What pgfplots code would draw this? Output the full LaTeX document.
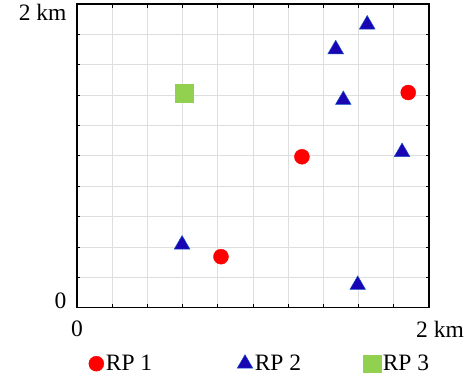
\documentclass[border=0pt]{standalone}
\usepackage{fontspec}
\setmainfont{Liberation Serif}
\usepackage{pgfplots}
\pgfplotsset{compat=1.18}
\definecolor{rpred}{RGB}{255,0,0}
\definecolor{rpblue}{RGB}{25,5,180}
\definecolor{rpblueedge}{RGB}{20,80,200}
\definecolor{rpgreen}{RGB}{146,208,80}
\definecolor{gridc}{RGB}{222,222,222}
\begin{document}
\begin{tikzpicture}
\begin{axis}[
  scale only axis,
  width=352pt, height=303.7pt,
  xmin=0, xmax=2, ymin=0, ymax=2,
  axis line style={black, line width=1.2pt},
  xtick={0,2},
  xticklabels={0,\hspace*{22pt}2 km},
  ytick={0.044,1.944},
  yticklabels={0,2 km},
  minor xtick={0.2,0.4,0.6,0.8,1.0,1.2,1.4,1.6,1.8},
  minor ytick={0.2,0.4,0.6,0.8,1.0,1.2,1.4,1.6,1.8},
  major tick length=0pt,
  minor tick length=3.5pt,
  tick align=inside,
  tick pos=both,
  minor tick style={black, line width=0.8pt},
  xminorgrids=true, yminorgrids=true,
  minor grid style={gridc, line width=0.9pt},
  /pgf/number format/assume math mode=true,
  ticklabel style={font=\fontsize{23.5}{27}\selectfont},
  xticklabel style={yshift=-10pt},
  yticklabel style={xshift=-7pt},
  legend columns=3,
  legend style={at={(0.5,-0.149)}, anchor=north, xshift=7pt, draw=none, fill=none,
    font=\fontsize{23.5}{27}\selectfont,
    /tikz/every even column/.append style={column sep=60pt},
    inner sep=0pt},
  legend cell align=left,
]
\addplot[only marks, mark=*, mark size=7.5pt, mark options={fill=rpred, draw=rpred}]
  coordinates {(1.882,1.417) (1.278,0.994) (0.818,0.336)};
\addlegendentry{RP 1\rule{23pt}{0pt}}
\addplot[only marks, mark=triangle*, mark size=9pt, mark options={fill=rpblue, draw=rpblueedge, line width=0.5pt}]
  coordinates {(1.649,1.865) (1.470,1.702) (1.513,1.368) (1.847,1.025) (0.597,0.416) (1.595,0.150)};
\addlegendentry{RP 2}
\addplot[only marks, mark=square*, mark size=8.8pt, mark options={fill=rpgreen, draw=rpgreen}]
  coordinates {(0.610,1.412)};
\addlegendentry{RP 3}
\end{axis}
\path ([xshift=-77pt,yshift=-73.3pt]current axis.south west) rectangle ([xshift=44pt,yshift=4pt]current axis.north east);
\end{tikzpicture}
\end{document}
